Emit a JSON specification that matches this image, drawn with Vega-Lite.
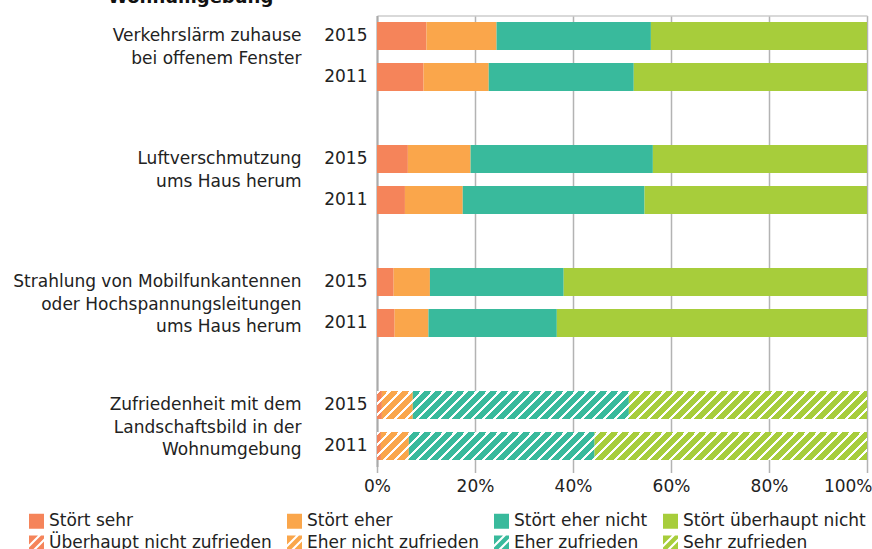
{
  "$schema": "https://vega.github.io/schema/vega-lite/v6.json",
  "autosize": "none",
  "width": 490,
  "height": 451,
  "padding": {"left": 377, "top": 15.5, "right": 5, "bottom": 82.5},
  "title": {"text": "Wohnumgebung", "anchor": "start", "frame": "group", "dx": -269, "dy": 5, "offset": 0, "baseline": "alphabetic", "font": "DejaVu Sans", "fontSize": 18, "fontWeight": "bold", "color": "#111"},
  "data": {"values": [
    {"row": "V 2015", "cat": "Stört sehr", "o": 1, "v": 10.1},
    {"row": "V 2015", "cat": "Stört eher", "o": 2, "v": 14.3},
    {"row": "V 2015", "cat": "Stört eher nicht", "o": 3, "v": 31.5},
    {"row": "V 2015", "cat": "Stört überhaupt nicht", "o": 4, "v": 44.1},
    {"row": "V 2011", "cat": "Stört sehr", "o": 1, "v": 9.5},
    {"row": "V 2011", "cat": "Stört eher", "o": 2, "v": 13.3},
    {"row": "V 2011", "cat": "Stört eher nicht", "o": 3, "v": 29.6},
    {"row": "V 2011", "cat": "Stört überhaupt nicht", "o": 4, "v": 47.6},
    {"row": "L 2015", "cat": "Stört sehr", "o": 1, "v": 6.3},
    {"row": "L 2015", "cat": "Stört eher", "o": 2, "v": 12.8},
    {"row": "L 2015", "cat": "Stört eher nicht", "o": 3, "v": 37.2},
    {"row": "L 2015", "cat": "Stört überhaupt nicht", "o": 4, "v": 43.7},
    {"row": "L 2011", "cat": "Stört sehr", "o": 1, "v": 5.7},
    {"row": "L 2011", "cat": "Stört eher", "o": 2, "v": 11.8},
    {"row": "L 2011", "cat": "Stört eher nicht", "o": 3, "v": 37.1},
    {"row": "L 2011", "cat": "Stört überhaupt nicht", "o": 4, "v": 45.4},
    {"row": "S 2015", "cat": "Stört sehr", "o": 1, "v": 3.4},
    {"row": "S 2015", "cat": "Stört eher", "o": 2, "v": 7.4},
    {"row": "S 2015", "cat": "Stört eher nicht", "o": 3, "v": 27.3},
    {"row": "S 2015", "cat": "Stört überhaupt nicht", "o": 4, "v": 61.9},
    {"row": "S 2011", "cat": "Stört sehr", "o": 1, "v": 3.6},
    {"row": "S 2011", "cat": "Stört eher", "o": 2, "v": 6.9},
    {"row": "S 2011", "cat": "Stört eher nicht", "o": 3, "v": 26.2},
    {"row": "S 2011", "cat": "Stört überhaupt nicht", "o": 4, "v": 63.3},
    {"row": "Z 2015", "cat": "Überhaupt nicht zufrieden", "o": 1, "v": 1.0},
    {"row": "Z 2015", "cat": "Eher nicht zufrieden", "o": 2, "v": 6.3},
    {"row": "Z 2015", "cat": "Eher zufrieden", "o": 3, "v": 44.1},
    {"row": "Z 2015", "cat": "Sehr zufrieden", "o": 4, "v": 48.6},
    {"row": "Z 2011", "cat": "Überhaupt nicht zufrieden", "o": 1, "v": 0.8},
    {"row": "Z 2011", "cat": "Eher nicht zufrieden", "o": 2, "v": 5.7},
    {"row": "Z 2011", "cat": "Eher zufrieden", "o": 3, "v": 37.9},
    {"row": "Z 2011", "cat": "Sehr zufrieden", "o": 4, "v": 55.6}
  ]},
  "layer": [
    {
      "mark": {"type": "bar", "strokeWidth": 0},
      "encoding": {
        "x": {"field": "v", "type": "quantitative", "stack": "zero",
          "scale": {"domain": [0, 100], "nice": false},
          "axis": {"orient": "bottom", "title": null, "values": [0, 20, 40, 60, 80, 100], "labelExpr": "datum.value + '%'",
            "grid": true, "gridColor": "#b3b3b3", "gridWidth": 1.5, "ticks": true, "tickColor": "#b3b3b3", "tickWidth": 1.5, "tickSize": 6,
            "domain": false, "labelFont": "DejaVu Sans", "labelFontSize": 17, "labelColor": "#222", "labelPadding": 6,
            "labelAlign": {"condition": {"test": "datum.value == 100", "value": "right"}, "value": "center"},
            "labelOffset": {"condition": {"test": "datum.value == 100", "value": 5}, "value": 0}}},
        "y": {"field": "row", "type": "nominal",
          "scale": {"domain": ["V 2015", "V 2011", "gap1", "L 2015", "L 2011", "gap2", "S 2015", "S 2011", "gap3", "Z 2015", "Z 2011"], "paddingInner": 0.317, "paddingOuter": 0.1585},
          "axis": {"orient": "left", "title": null, "domain": true, "domainColor": "#aaaaaa", "domainWidth": 2, "ticks": false, "tickSize": 0, "grid": false,
            "labelPadding": 10, "labelExpr": "indexof(datum.value, 'gap') == 0 ? '' : slice(datum.value, -4)",
            "labelFont": "DejaVu Sans", "labelFontSize": 17, "labelColor": "#222"}},
        "color": {"field": "cat", "type": "nominal",
          "scale": {"domain": ["Stört sehr", "Stört eher", "Stört eher nicht", "Stört überhaupt nicht", "Überhaupt nicht zufrieden", "Eher nicht zufrieden", "Eher zufrieden", "Sehr zufrieden"],
            "range": ["#f5845a", "#faa64b", "#39ba9c", "#a7cd3b", "#f5845a", "#faa64b", "#39ba9c", "#a7cd3b"]},
          "legend": {"orient": "none", "legendX": -349, "legendY": 497, "columns": 4, "direction": "horizontal", "title": null,
            "symbolSize": 225, "symbolStrokeWidth": 0, "symbolOpacity": 1, "labelFont": "DejaVu Sans", "labelFontSize": 17, "labelColor": "#222",
            "labelOffset": 4, "columnPadding": 14, "rowPadding": 4, "labelLimit": 400}},
        "order": {"field": "o", "type": "quantitative"}
      }
    },
    {
      "transform": [{"filter": "indexof(datum.row, 'Z') == 0"}],
      "mark": {"type": "bar", "strokeWidth": 0, "fill": {"gradient": "linear", "x1": 0, "y1": 0, "x2": 1.1188, "y2": 0.0639, "stops": [
        {"offset": 0, "color": "#fff"}, {"offset": 0.0055, "color": "#fff"}, {"offset": 0.0055, "color": "transparent"}, {"offset": 0.02, "color": "transparent"},
        {"offset": 0.02, "color": "#fff"}, {"offset": 0.0255, "color": "#fff"}, {"offset": 0.0255, "color": "transparent"}, {"offset": 0.04, "color": "transparent"},
        {"offset": 0.04, "color": "#fff"}, {"offset": 0.0455, "color": "#fff"}, {"offset": 0.0455, "color": "transparent"}, {"offset": 0.06, "color": "transparent"},
        {"offset": 0.06, "color": "#fff"}, {"offset": 0.0655, "color": "#fff"}, {"offset": 0.0655, "color": "transparent"}, {"offset": 0.08, "color": "transparent"},
        {"offset": 0.08, "color": "#fff"}, {"offset": 0.0855, "color": "#fff"}, {"offset": 0.0855, "color": "transparent"}, {"offset": 0.1, "color": "transparent"},
        {"offset": 0.1, "color": "#fff"}, {"offset": 0.1055, "color": "#fff"}, {"offset": 0.1055, "color": "transparent"}, {"offset": 0.12, "color": "transparent"},
        {"offset": 0.12, "color": "#fff"}, {"offset": 0.1255, "color": "#fff"}, {"offset": 0.1255, "color": "transparent"}, {"offset": 0.14, "color": "transparent"},
        {"offset": 0.14, "color": "#fff"}, {"offset": 0.1455, "color": "#fff"}, {"offset": 0.1455, "color": "transparent"}, {"offset": 0.16, "color": "transparent"},
        {"offset": 0.16, "color": "#fff"}, {"offset": 0.1655, "color": "#fff"}, {"offset": 0.1655, "color": "transparent"}, {"offset": 0.18, "color": "transparent"},
        {"offset": 0.18, "color": "#fff"}, {"offset": 0.1855, "color": "#fff"}, {"offset": 0.1855, "color": "transparent"}, {"offset": 0.2, "color": "transparent"},
        {"offset": 0.2, "color": "#fff"}, {"offset": 0.2055, "color": "#fff"}, {"offset": 0.2055, "color": "transparent"}, {"offset": 0.22, "color": "transparent"},
        {"offset": 0.22, "color": "#fff"}, {"offset": 0.2255, "color": "#fff"}, {"offset": 0.2255, "color": "transparent"}, {"offset": 0.24, "color": "transparent"},
        {"offset": 0.24, "color": "#fff"}, {"offset": 0.2455, "color": "#fff"}, {"offset": 0.2455, "color": "transparent"}, {"offset": 0.26, "color": "transparent"},
        {"offset": 0.26, "color": "#fff"}, {"offset": 0.2655, "color": "#fff"}, {"offset": 0.2655, "color": "transparent"}, {"offset": 0.28, "color": "transparent"},
        {"offset": 0.28, "color": "#fff"}, {"offset": 0.2855, "color": "#fff"}, {"offset": 0.2855, "color": "transparent"}, {"offset": 0.3, "color": "transparent"},
        {"offset": 0.3, "color": "#fff"}, {"offset": 0.3055, "color": "#fff"}, {"offset": 0.3055, "color": "transparent"}, {"offset": 0.32, "color": "transparent"},
        {"offset": 0.32, "color": "#fff"}, {"offset": 0.3255, "color": "#fff"}, {"offset": 0.3255, "color": "transparent"}, {"offset": 0.34, "color": "transparent"},
        {"offset": 0.34, "color": "#fff"}, {"offset": 0.3455, "color": "#fff"}, {"offset": 0.3455, "color": "transparent"}, {"offset": 0.36, "color": "transparent"},
        {"offset": 0.36, "color": "#fff"}, {"offset": 0.3655, "color": "#fff"}, {"offset": 0.3655, "color": "transparent"}, {"offset": 0.38, "color": "transparent"},
        {"offset": 0.38, "color": "#fff"}, {"offset": 0.3855, "color": "#fff"}, {"offset": 0.3855, "color": "transparent"}, {"offset": 0.4, "color": "transparent"},
        {"offset": 0.4, "color": "#fff"}, {"offset": 0.4055, "color": "#fff"}, {"offset": 0.4055, "color": "transparent"}, {"offset": 0.42, "color": "transparent"},
        {"offset": 0.42, "color": "#fff"}, {"offset": 0.4255, "color": "#fff"}, {"offset": 0.4255, "color": "transparent"}, {"offset": 0.44, "color": "transparent"},
        {"offset": 0.44, "color": "#fff"}, {"offset": 0.4455, "color": "#fff"}, {"offset": 0.4455, "color": "transparent"}, {"offset": 0.46, "color": "transparent"},
        {"offset": 0.46, "color": "#fff"}, {"offset": 0.4655, "color": "#fff"}, {"offset": 0.4655, "color": "transparent"}, {"offset": 0.48, "color": "transparent"},
        {"offset": 0.48, "color": "#fff"}, {"offset": 0.4855, "color": "#fff"}, {"offset": 0.4855, "color": "transparent"}, {"offset": 0.5, "color": "transparent"},
        {"offset": 0.5, "color": "#fff"}, {"offset": 0.5055, "color": "#fff"}, {"offset": 0.5055, "color": "transparent"}, {"offset": 0.52, "color": "transparent"},
        {"offset": 0.52, "color": "#fff"}, {"offset": 0.5255, "color": "#fff"}, {"offset": 0.5255, "color": "transparent"}, {"offset": 0.54, "color": "transparent"},
        {"offset": 0.54, "color": "#fff"}, {"offset": 0.5455, "color": "#fff"}, {"offset": 0.5455, "color": "transparent"}, {"offset": 0.56, "color": "transparent"},
        {"offset": 0.56, "color": "#fff"}, {"offset": 0.5655, "color": "#fff"}, {"offset": 0.5655, "color": "transparent"}, {"offset": 0.58, "color": "transparent"},
        {"offset": 0.58, "color": "#fff"}, {"offset": 0.5855, "color": "#fff"}, {"offset": 0.5855, "color": "transparent"}, {"offset": 0.6, "color": "transparent"},
        {"offset": 0.6, "color": "#fff"}, {"offset": 0.6055, "color": "#fff"}, {"offset": 0.6055, "color": "transparent"}, {"offset": 0.62, "color": "transparent"},
        {"offset": 0.62, "color": "#fff"}, {"offset": 0.6255, "color": "#fff"}, {"offset": 0.6255, "color": "transparent"}, {"offset": 0.64, "color": "transparent"},
        {"offset": 0.64, "color": "#fff"}, {"offset": 0.6455, "color": "#fff"}, {"offset": 0.6455, "color": "transparent"}, {"offset": 0.66, "color": "transparent"},
        {"offset": 0.66, "color": "#fff"}, {"offset": 0.6655, "color": "#fff"}, {"offset": 0.6655, "color": "transparent"}, {"offset": 0.68, "color": "transparent"},
        {"offset": 0.68, "color": "#fff"}, {"offset": 0.6855, "color": "#fff"}, {"offset": 0.6855, "color": "transparent"}, {"offset": 0.7, "color": "transparent"},
        {"offset": 0.7, "color": "#fff"}, {"offset": 0.7055, "color": "#fff"}, {"offset": 0.7055, "color": "transparent"}, {"offset": 0.72, "color": "transparent"},
        {"offset": 0.72, "color": "#fff"}, {"offset": 0.7255, "color": "#fff"}, {"offset": 0.7255, "color": "transparent"}, {"offset": 0.74, "color": "transparent"},
        {"offset": 0.74, "color": "#fff"}, {"offset": 0.7455, "color": "#fff"}, {"offset": 0.7455, "color": "transparent"}, {"offset": 0.76, "color": "transparent"},
        {"offset": 0.76, "color": "#fff"}, {"offset": 0.7655, "color": "#fff"}, {"offset": 0.7655, "color": "transparent"}, {"offset": 0.78, "color": "transparent"},
        {"offset": 0.78, "color": "#fff"}, {"offset": 0.7855, "color": "#fff"}, {"offset": 0.7855, "color": "transparent"}, {"offset": 0.8, "color": "transparent"},
        {"offset": 0.8, "color": "#fff"}, {"offset": 0.8055, "color": "#fff"}, {"offset": 0.8055, "color": "transparent"}, {"offset": 0.82, "color": "transparent"},
        {"offset": 0.82, "color": "#fff"}, {"offset": 0.8255, "color": "#fff"}, {"offset": 0.8255, "color": "transparent"}, {"offset": 0.84, "color": "transparent"},
        {"offset": 0.84, "color": "#fff"}, {"offset": 0.8455, "color": "#fff"}, {"offset": 0.8455, "color": "transparent"}, {"offset": 0.86, "color": "transparent"},
        {"offset": 0.86, "color": "#fff"}, {"offset": 0.8655, "color": "#fff"}, {"offset": 0.8655, "color": "transparent"}, {"offset": 0.88, "color": "transparent"},
        {"offset": 0.88, "color": "#fff"}, {"offset": 0.8855, "color": "#fff"}, {"offset": 0.8855, "color": "transparent"}, {"offset": 0.9, "color": "transparent"},
        {"offset": 0.9, "color": "#fff"}, {"offset": 0.9055, "color": "#fff"}, {"offset": 0.9055, "color": "transparent"}, {"offset": 0.92, "color": "transparent"},
        {"offset": 0.92, "color": "#fff"}, {"offset": 0.9255, "color": "#fff"}, {"offset": 0.9255, "color": "transparent"}, {"offset": 0.94, "color": "transparent"},
        {"offset": 0.94, "color": "#fff"}, {"offset": 0.9455, "color": "#fff"}, {"offset": 0.9455, "color": "transparent"}, {"offset": 0.96, "color": "transparent"}
      ]}},
      "encoding": {
        "x": {"aggregate": "sum", "field": "v", "type": "quantitative",
          "scale": {"domain": [0, 100], "nice": false},
          "axis": {"orient": "top", "title": null, "labels": false, "ticks": false, "grid": false, "domain": true, "domainColor": "#cccccc", "domainWidth": 1.7}},
        "y": {"field": "row", "type": "nominal",
          "scale": {"domain": ["V 2015", "V 2011", "gap1", "L 2015", "L 2011", "gap2", "S 2015", "S 2011", "gap3", "Z 2015", "Z 2011"], "paddingInner": 0.317, "paddingOuter": 0.1585},
          "axis": null}
      }
    },
    {
      "mark": {"type": "point", "filled": true, "opacity": 0},
      "encoding": {
        "y": {"field": "row", "type": "nominal",
          "scale": {"domain": ["V 2015", "V 2011", "gap1", "L 2015", "L 2011", "gap2", "S 2015", "S 2011", "gap3", "Z 2015", "Z 2011"], "paddingInner": 0.317, "paddingOuter": 0.1585},
          "axis": {"orient": "left", "title": null, "domain": false, "ticks": false, "tickSize": 0, "grid": false, "labelPadding": 76,
            "labelExpr": "datum.value == 'V 2015' ? ['Verkehrslärm zuhause', 'bei offenem Fenster'] : datum.value == 'L 2015' ? ['Luftverschmutzung', 'ums Haus herum'] : datum.value == 'S 2015' ? ['Strahlung von Mobilfunkantennen', 'oder Hochspannungsleitungen', 'ums Haus herum'] : datum.value == 'Z 2015' ? ['Zufriedenheit mit dem', 'Landschaftsbild in der', 'Wohnumgebung'] : ''",
            "labelFont": "DejaVu Sans", "labelFontSize": 17, "labelLineHeight": 22.5, "labelLimit": 400, "labelColor": "#222", "labelAlign": "right", "labelBaseline": "middle"}},
        "color": {"field": "cat", "type": "nominal",
          "scale": {"domain": ["Stört sehr", "Stört eher", "Stört eher nicht", "Stört überhaupt nicht", "Überhaupt nicht zufrieden", "Eher nicht zufrieden", "Eher zufrieden", "Sehr zufrieden"],
            "range": ["#f5845a", "#faa64b", "#39ba9c", "#a7cd3b", "#f5845a", "#faa64b", "#39ba9c", "#a7cd3b"]},
          "legend": {"orient": "none", "legendX": -349, "legendY": 497, "columns": 4, "direction": "horizontal", "title": null,
            "symbolSize": 225, "symbolStrokeWidth": 0, "symbolOpacity": 1, "labelFont": "DejaVu Sans", "labelFontSize": 17, "labelColor": "#222",
            "labelOffset": 4, "columnPadding": 14, "rowPadding": 4, "labelLimit": 400}},
        "shape": {"field": "cat", "type": "nominal",
          "scale": {"domain": ["Stört sehr", "Stört eher", "Stört eher nicht", "Stört überhaupt nicht", "Überhaupt nicht zufrieden", "Eher nicht zufrieden", "Eher zufrieden", "Sehr zufrieden"],
            "range": ["square", "square", "square", "square",
              "M-1,-1L0.2,-1L-1,0.2ZM0.6,-1L1,-1L1,-0.6L-0.6,1L-1,1L-1,0.6ZM1,-0.2L1,1L-0.2,1Z",
              "M-1,-1L0.2,-1L-1,0.2ZM0.6,-1L1,-1L1,-0.6L-0.6,1L-1,1L-1,0.6ZM1,-0.2L1,1L-0.2,1Z",
              "M-1,-1L0.2,-1L-1,0.2ZM0.6,-1L1,-1L1,-0.6L-0.6,1L-1,1L-1,0.6ZM1,-0.2L1,1L-0.2,1Z",
              "M-1,-1L0.2,-1L-1,0.2ZM0.6,-1L1,-1L1,-0.6L-0.6,1L-1,1L-1,0.6ZM1,-0.2L1,1L-0.2,1Z"]},
          "legend": {"orient": "none", "legendX": -349, "legendY": 497, "columns": 4, "direction": "horizontal", "title": null,
            "symbolSize": 225, "symbolStrokeWidth": 0, "symbolOpacity": 1, "labelFont": "DejaVu Sans", "labelFontSize": 17, "labelColor": "#222",
            "labelOffset": 4, "columnPadding": 14, "rowPadding": 4, "labelLimit": 400}}
      }
    }
  ],
  "resolve": {"axis": {"x": "independent", "y": "independent"}},
  "config": {"view": {"stroke": null}, "font": "DejaVu Sans"}
}
